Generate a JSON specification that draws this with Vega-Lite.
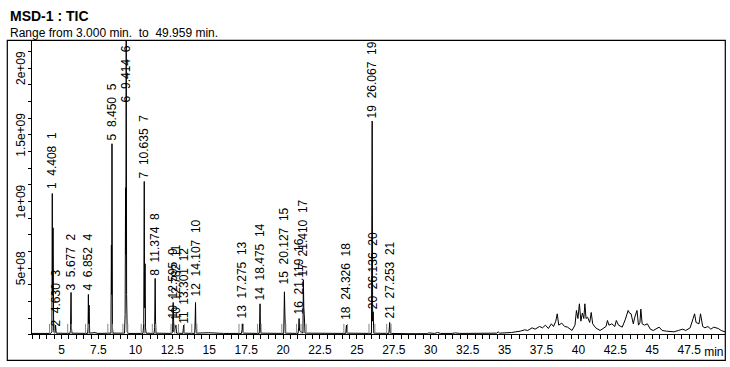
{
  "$schema": "https://vega.github.io/schema/vega-lite/v6.json",
  "width": 718,
  "height": 320,
  "autosize": {"type": "none"},
  "padding": {"left": 7, "top": 40, "right": 5, "bottom": 7},
  "background": "white",
  "config": {
    "font": "Liberation Sans",
    "view": {"stroke": "#000", "strokeWidth": 1.2}
  },
  "title": {
    "text": "MSD-1 : TIC",
    "subtitle": "Range from 3.000 min.\u00a0 to\u00a0 49.959 min.",
    "anchor": "start",
    "frame": "group",
    "dx": 3,
    "offset": 1,
    "fontSize": 14,
    "fontWeight": "bold",
    "color": "#000",
    "subtitleFontSize": 12,
    "subtitleColor": "#000",
    "subtitlePadding": 4,
    "font": "Liberation Sans",
    "subtitleFont": "Liberation Sans"
  },
  "datasets": {
    "tic": [
      {"t": 3.0, "v": 8e6}, {"t": 4.30, "v": 8e6}, {"t": 4.38, "v": 2e7}, {"t": 4.408, "v": 1.057e9}, {"t": 4.43, "v": 3e8}, {"t": 4.46, "v": 8e8}, {"t": 4.50, "v": 3e7}, {"t": 4.55, "v": 1e7}, {"t": 4.60, "v": 2e7}, {"t": 4.63, "v": 7e7}, {"t": 4.67, "v": 1e7},
      {"t": 5.60, "v": 8e6}, {"t": 5.64, "v": 3e7}, {"t": 5.677, "v": 3.15e8}, {"t": 5.70, "v": 5e7}, {"t": 5.74, "v": 1e7},
      {"t": 6.80, "v": 8e6}, {"t": 6.83, "v": 5e7}, {"t": 6.852, "v": 3.0e8}, {"t": 6.87, "v": 8e7}, {"t": 6.90, "v": 2.2e8}, {"t": 6.94, "v": 1e7},
      {"t": 7.3, "v": 1.4e7}, {"t": 7.5, "v": 8e6},
      {"t": 8.38, "v": 1e7}, {"t": 8.41, "v": 6.7e8}, {"t": 8.43, "v": 3e8}, {"t": 8.45, "v": 1.43e9}, {"t": 8.48, "v": 5e7}, {"t": 8.52, "v": 1e7},
      {"t": 9.30, "v": 1e7}, {"t": 9.34, "v": 1.5e8}, {"t": 9.37, "v": 1.1e9}, {"t": 9.39, "v": 6e8}, {"t": 9.414, "v": 2.5e9}, {"t": 9.44, "v": 3e8}, {"t": 9.48, "v": 2e7}, {"t": 9.55, "v": 8e6},
      {"t": 10.55, "v": 8e6}, {"t": 10.60, "v": 8e7}, {"t": 10.635, "v": 1.147e9}, {"t": 10.66, "v": 2e8}, {"t": 10.69, "v": 5.3e8}, {"t": 10.72, "v": 5e7}, {"t": 10.76, "v": 1e7},
      {"t": 11.30, "v": 8e6}, {"t": 11.34, "v": 5e7}, {"t": 11.374, "v": 4.2e8}, {"t": 11.40, "v": 1e8}, {"t": 11.43, "v": 1e7},
      {"t": 12.50, "v": 8e6}, {"t": 12.55, "v": 2e7}, {"t": 12.595, "v": 2.4e8}, {"t": 12.64, "v": 2e7}, {"t": 12.782, "v": 7e7}, {"t": 12.82, "v": 1e7},
      {"t": 13.25, "v": 8e6}, {"t": 13.301, "v": 7e7}, {"t": 13.34, "v": 1e7},
      {"t": 14.05, "v": 8e6}, {"t": 14.08, "v": 1e8}, {"t": 14.107, "v": 2.4e8}, {"t": 14.13, "v": 6e7}, {"t": 14.17, "v": 1e7},
      {"t": 15.0, "v": 1.3e7}, {"t": 16.0, "v": 8e6},
      {"t": 17.22, "v": 8e6}, {"t": 17.26, "v": 4e7}, {"t": 17.275, "v": 8e7}, {"t": 17.30, "v": 5e7}, {"t": 17.34, "v": 1e7},
      {"t": 18.42, "v": 8e6}, {"t": 18.45, "v": 9e7}, {"t": 18.475, "v": 2.3e8}, {"t": 18.50, "v": 5e7}, {"t": 18.54, "v": 1e7},
      {"t": 20.08, "v": 8e6}, {"t": 20.127, "v": 3.2e8}, {"t": 20.16, "v": 1.4e8}, {"t": 20.20, "v": 1e7},
      {"t": 21.05, "v": 8e6}, {"t": 21.09, "v": 5e7}, {"t": 21.119, "v": 1.2e8}, {"t": 21.15, "v": 3e7}, {"t": 21.38, "v": 1e7}, {"t": 21.410, "v": 4.1e8}, {"t": 21.44, "v": 2e8}, {"t": 21.47, "v": 1.5e8}, {"t": 21.52, "v": 1e7},
      {"t": 24.28, "v": 8e6}, {"t": 24.326, "v": 7e7}, {"t": 24.37, "v": 1e7},
      {"t": 26.02, "v": 8e6}, {"t": 26.067, "v": 1.6e9}, {"t": 26.10, "v": 1e8}, {"t": 26.136, "v": 1.7e8}, {"t": 26.18, "v": 1e7},
      {"t": 27.20, "v": 8e6}, {"t": 27.253, "v": 9e7}, {"t": 27.29, "v": 2e7}, {"t": 27.32, "v": 8e6},
      {"t": 28.5, "v": 6e6}, {"t": 29.8, "v": 6e6}, {"t": 29.9, "v": 1.2e7}, {"t": 30.3, "v": 8e6}, {"t": 30.5, "v": 1.5e7}, {"t": 30.7, "v": 8e6},
      {"t": 31.5, "v": 8e6}, {"t": 31.7, "v": 1.2e7}, {"t": 32.0, "v": 8e6}, {"t": 34.5, "v": 1e7}, {"t": 34.6, "v": 2e7}, {"t": 34.7, "v": 1e7},
      {"t": 35.5, "v": 1.5e7}, {"t": 35.8, "v": 2e7}, {"t": 36.1, "v": 2.5e7}, {"t": 36.4, "v": 3.5e7}, {"t": 36.6, "v": 3e7}, {"t": 36.9, "v": 5e7},
      {"t": 37.1, "v": 4e7}, {"t": 37.4, "v": 6e7}, {"t": 37.6, "v": 5e7}, {"t": 37.8, "v": 7e7}, {"t": 38.0, "v": 4.5e7}, {"t": 38.2, "v": 8e7},
      {"t": 38.35, "v": 6e7}, {"t": 38.5, "v": 1e8}, {"t": 38.6, "v": 1.55e8}, {"t": 38.7, "v": 7e7}, {"t": 38.9, "v": 8.5e7}, {"t": 39.1, "v": 6e7},
      {"t": 39.3, "v": 5.5e7}, {"t": 39.6, "v": 3e7}, {"t": 39.8, "v": 7e7}, {"t": 39.9, "v": 1.8e8}, {"t": 40.0, "v": 1.2e8}, {"t": 40.1, "v": 2.3e8},
      {"t": 40.2, "v": 1e8}, {"t": 40.3, "v": 1.6e8}, {"t": 40.4, "v": 1.2e8}, {"t": 40.47, "v": 2.3e8}, {"t": 40.55, "v": 1.2e8}, {"t": 40.65, "v": 1.3e8},
      {"t": 40.8, "v": 9e7}, {"t": 40.9, "v": 1.65e8}, {"t": 41.0, "v": 8e7}, {"t": 41.2, "v": 5e7}, {"t": 41.5, "v": 3e7}, {"t": 41.7, "v": 4.5e7},
      {"t": 41.9, "v": 6e7}, {"t": 42.0, "v": 1.05e8}, {"t": 42.1, "v": 7e7}, {"t": 42.3, "v": 8e7}, {"t": 42.5, "v": 6e7}, {"t": 42.6, "v": 1.05e8},
      {"t": 42.75, "v": 7e7}, {"t": 43.0, "v": 5.5e7}, {"t": 43.2, "v": 1.1e8}, {"t": 43.4, "v": 1.8e8}, {"t": 43.5, "v": 1.6e8}, {"t": 43.6, "v": 1.55e8},
      {"t": 43.75, "v": 8e7}, {"t": 43.85, "v": 1.3e8}, {"t": 44.0, "v": 1.8e8}, {"t": 44.1, "v": 7e7}, {"t": 44.2, "v": 9e7}, {"t": 44.26, "v": 1.9e8},
      {"t": 44.35, "v": 8e7}, {"t": 44.5, "v": 7e7}, {"t": 44.7, "v": 8e7}, {"t": 44.9, "v": 4e7}, {"t": 45.1, "v": 3e7}, {"t": 45.5, "v": 5.5e7},
      {"t": 45.7, "v": 3e7}, {"t": 46.0, "v": 2.5e7}, {"t": 46.5, "v": 2e7}, {"t": 46.8, "v": 3e7}, {"t": 47.1, "v": 4e7}, {"t": 47.3, "v": 3e7},
      {"t": 47.6, "v": 5e7}, {"t": 47.8, "v": 1.2e8}, {"t": 47.9, "v": 1.55e8}, {"t": 48.0, "v": 9e7}, {"t": 48.2, "v": 8e7}, {"t": 48.3, "v": 1.55e8},
      {"t": 48.45, "v": 6e7}, {"t": 48.6, "v": 5e7}, {"t": 48.8, "v": 6e7}, {"t": 49.0, "v": 4e7}, {"t": 49.2, "v": 5.5e7}, {"t": 49.5, "v": 4.5e7},
      {"t": 49.7, "v": 3e7}, {"t": 49.959, "v": 2e7}
    ],
    "labels": [
      {"t": 4.408, "v": 1.09e9, "label": "1\u00a0\u00a04.408\u00a0\u00a01"},
      {"t": 4.630, "v": 6e7, "label": "2\u00a0\u00a04.630\u00a0\u00a03"},
      {"t": 5.677, "v": 3.3e8, "label": "3\u00a0\u00a05.677\u00a0\u00a02"},
      {"t": 6.852, "v": 3.3e8, "label": "4\u00a0\u00a06.852\u00a0\u00a04"},
      {"t": 8.450, "v": 1.455e9, "label": "5\u00a0\u00a08.450\u00a0\u00a05"},
      {"t": 9.414, "v": 1.74e9, "label": "6\u00a0\u00a09.414\u00a0\u00a06"},
      {"t": 10.635, "v": 1.17e9, "label": "7\u00a0\u00a010.635\u00a0\u00a07"},
      {"t": 11.374, "v": 4.4e8, "label": "8\u00a0\u00a011.374\u00a0\u00a08"},
      {"t": 12.595, "v": 1.2e8, "label": "10\u00a0\u00a012.595\u00a0\u00a09"},
      {"t": 12.782, "v": 1.05e8, "label": "10\u00a0\u00a012.782\u00a0\u00a011"},
      {"t": 13.301, "v": 8e7, "label": "11\u00a0\u00a013.301\u00a0\u00a012"},
      {"t": 14.107, "v": 2.85e8, "label": "12\u00a0\u00a014.107\u00a0\u00a010"},
      {"t": 17.275, "v": 1.2e8, "label": "13\u00a0\u00a017.275\u00a0\u00a013"},
      {"t": 18.475, "v": 2.55e8, "label": "14\u00a0\u00a018.475\u00a0\u00a014"},
      {"t": 20.127, "v": 3.75e8, "label": "15\u00a0\u00a020.127\u00a0\u00a015"},
      {"t": 21.119, "v": 1.5e8, "label": "16\u00a0\u00a021.119\u00a0\u00a016"},
      {"t": 21.410, "v": 4.35e8, "label": "17\u00a0\u00a021.410\u00a0\u00a017"},
      {"t": 24.326, "v": 1.1e8, "label": "18\u00a0\u00a024.326\u00a0\u00a018"},
      {"t": 26.067, "v": 1.62e9, "label": "19\u00a0\u00a026.067\u00a0\u00a019"},
      {"t": 26.136, "v": 1.9e8, "label": "20\u00a0\u00a026.136\u00a0\u00a020"},
      {"t": 27.253, "v": 1.2e8, "label": "21\u00a0\u00a027.253\u00a0\u00a021"}
    ],
    "marks": [
      {"t": 4.22}, {"t": 4.56}, {"t": 5.45}, {"t": 5.69}, {"t": 6.66}, {"t": 6.88}, {"t": 8.17}, {"t": 8.47}, {"t": 9.19}, {"t": 9.52},
      {"t": 10.43}, {"t": 10.66}, {"t": 11.18}, {"t": 11.40}, {"t": 12.45}, {"t": 12.70}, {"t": 12.95}, {"t": 13.35}, {"t": 13.85}, {"t": 14.20},
      {"t": 17.05}, {"t": 17.35}, {"t": 18.30}, {"t": 18.55}, {"t": 19.95}, {"t": 20.22}, {"t": 20.95}, {"t": 21.25}, {"t": 21.60},
      {"t": 24.15}, {"t": 24.40}, {"t": 25.85}, {"t": 26.25}, {"t": 27.05}, {"t": 27.35}
    ]
  },
  "layer": [
    {
      "data": {"name": "tic"},
      "mark": {"type": "line", "color": "#000", "strokeWidth": 1, "clip": true, "interpolate": "linear"},
      "encoding": {
        "x": {"field": "t", "type": "quantitative",
          "scale": {"domain": [1.341, 49.959], "nice": false, "zero": false},
          "axis": {
            "title": "min", "titleAnchor": "end", "titleAlign": "right", "titleX": 716, "titleY": 17, "titleBaseline": "middle",
            "titleFont": "Liberation Sans", "titleFontSize": 12, "titleFontWeight": "normal", "titleColor": "#000",
            "grid": false, "domain": false, "ticks": true, "tickColor": "#000", "tickWidth": 1, "tickSize": 4, "tickCount": 200,
            "offset": -25.5, "labelPadding": 6, "labelOverlap": false, "labelFontSize": 12, "labelColor": "#000", "labelFont": "Liberation Sans", "format": "~g",
            "values": [3,3.5,4,4.5,5,5.5,6,6.5,7,7.5,8,8.5,9,9.5,10,10.5,11,11.5,12,12.5,13,13.5,14,14.5,15,15.5,16,16.5,17,17.5,18,18.5,19,19.5,20,20.5,21,21.5,22,22.5,23,23.5,24,24.5,25,25.5,26,26.5,27,27.5,28,28.5,29,29.5,30,30.5,31,31.5,32,32.5,33,33.5,34,34.5,35,35.5,36,36.5,37,37.5,38,38.5,39,39.5,40,40.5,41,41.5,42,42.5,43,43.5,44,44.5,45,45.5,46,46.5,47,47.5,48,48.5,49,49.5],
            "labelExpr": "(datum.value % 2.5 === 0 && datum.value >= 5) ? datum.label : ''"
          }},
        "y": {"field": "v", "type": "quantitative",
          "scale": {"domain": [-1.912e8, 2.2076e9], "nice": false, "zero": false},
          "axis": {
            "title": null, "grid": false, "domain": false, "ticks": true, "tickColor": "#000", "tickWidth": 1, "tickSize": 4, "tickCount": 100,
            "offset": -24.5, "labelPadding": 0, "labelAngle": 270, "labelAlign": "center", "labelBaseline": "bottom", "labelOverlap": false,
            "labelFontSize": 12, "labelColor": "#000", "labelFont": "Liberation Sans",
            "values": [0,1.25e8,2.5e8,3.75e8,5e8,6.25e8,7.5e8,8.75e8,1e9,1.125e9,1.25e9,1.375e9,1.5e9,1.625e9,1.75e9,1.875e9,2e9,2.125e9],
            "labelExpr": "datum.value === 5e8 ? '5e+08' : datum.value === 1e9 ? '1e+09' : datum.value === 1.5e9 ? '1.5e+09' : datum.value === 2e9 ? '2e+09' : ''"
          }}
      }
    },
    {
      "data": {"name": "marks"},
      "mark": {"type": "rule", "color": "#888888", "strokeWidth": 1},
      "encoding": {
        "x": {"field": "t", "type": "quantitative"},
        "y": {"datum": 5e6, "type": "quantitative"},
        "y2": {"datum": 8e7}
      }
    },
    {
      "data": {"values": [{"a": 1}]},
      "mark": {"type": "rule", "color": "#000", "strokeWidth": 1},
      "encoding": {
        "x": {"datum": 3, "type": "quantitative"},
        "y": {"datum": 0, "type": "quantitative"},
        "y2": {"datum": 2.2076e9}
      }
    },
    {
      "data": {"values": [{"a": 1}]},
      "mark": {"type": "rule", "color": "#000", "strokeWidth": 1},
      "encoding": {
        "x": {"datum": 3, "type": "quantitative"},
        "x2": {"datum": 49.959},
        "y": {"datum": 0, "type": "quantitative"}
      }
    },
    {
      "data": {"name": "labels"},
      "mark": {"type": "text", "angle": 270, "align": "left", "baseline": "middle", "fontSize": 12, "color": "#000", "font": "Liberation Sans"},
      "encoding": {
        "x": {"field": "t", "type": "quantitative"},
        "y": {"field": "v", "type": "quantitative"},
        "text": {"field": "label"}
      }
    }
  ]
}
